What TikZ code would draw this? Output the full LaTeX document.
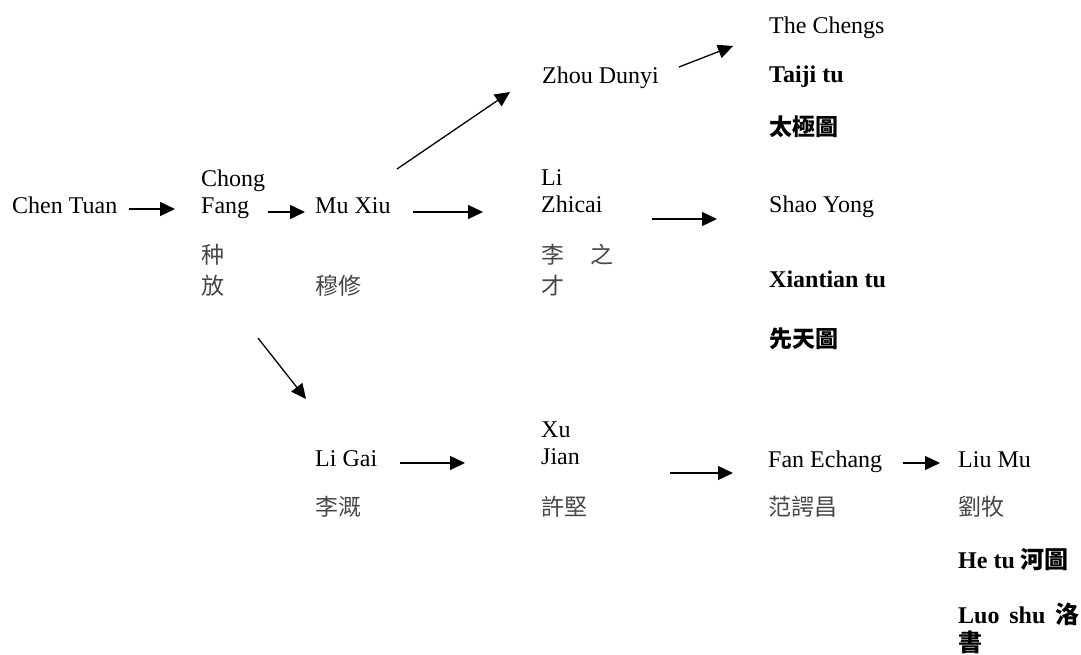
\documentclass[tikz,border=0pt]{standalone}
\usepackage{fontspec}
\setmainfont{Liberation Serif}
\newfontfamily\cjk{Noto Sans CJK TC}
\usetikzlibrary{arrows.meta}
\newcommand\twol[3][27pt]{\vtop{\baselineskip=#1\hbox{#2}\hbox{#3}}}
\tikzset{
  lbl/.style={anchor=base west, inner sep=0pt, font=\fontsize{24pt}{27pt}\selectfont},
  zh/.style={lbl, font=\fontsize{23pt}{31pt}\selectfont\cjk, text=black!72},
  zhb/.style={lbl, font=\fontsize{23pt}{31pt}\selectfont\cjk\bfseries},
  bld/.style={lbl, font=\fontsize{24pt}{27pt}\selectfont\bfseries},
  arr/.style={-{Triangle[length=15pt,width=14pt]}, line width=1.3pt},
}
\begin{document}
\begin{tikzpicture}[x=1pt,y=-1pt]
\useasboundingbox (0,0) rectangle (1081,654);
% people
\node[lbl] (chen) at (12,213) {Chen Tuan};
\node[lbl] (chong) at (201,186) {\twol{Chong}{Fang}};
\node[zh] (chongzh) at (201,263) {\twol[31pt]{种}{放}};
\node[lbl] (mu) at (315,213) {Mu Xiu};
\node[zh] (muzh) at (315,294) {穆修};
\node[lbl] (zhou) at (542,83) {Zhou Dunyi};
\node[lbl] (chengs) at (769,33) {The Chengs};
\node[bld] (taiji) at (769,82) {Taiji tu};
\node[zhb] (taijizh) at (769,135) {太極圖};
\node[lbl] (li) at (541,185) {\twol{Li}{Zhicai}};
\node[zh] (lizh) at (541,263) {\twol[31pt]{李\hspace{26pt}之}{才}};
\node[lbl] (shao) at (769,212) {Shao Yong};
\node[bld] (xiantian) at (769,287) {Xiantian tu};
\node[zhb] (xiantianzh) at (769,347) {先天圖};
\node[lbl] (ligai) at (315,466) {Li Gai};
\node[zh] (ligaizh) at (315,515) {李溉};
\node[lbl] (xu) at (541,437) {\twol{Xu}{Jian}};
\node[zh] (xuzh) at (541,515) {許堅};
\node[lbl] (fan) at (768,467) {Fan Echang};
\node[zh] (fanzh) at (768,515) {范諤昌};
\node[lbl] (liu) at (958,467) {Liu Mu};
\node[zh] (liuzh) at (958,515) {劉牧};
\node[bld] (hetu) at (958,568) {He tu {\cjk 河圖}};
\node[bld] (luo) at (958,623) {\vtop{\baselineskip=28pt\hbox to 121pt{Luo\hfill shu\hfill{\cjk 洛}}\hbox{\cjk 書}}};
% arrow end points
\coordinate (a1s) at (129,209); \coordinate (a1e) at (175,209);
\coordinate (a2s) at (268,212); \coordinate (a2e) at (305,212);
\coordinate (a3s) at (397,169); \coordinate (a3e) at (510,92);
\coordinate (a4s) at (413,212); \coordinate (a4e) at (483,212);
\coordinate (a5s) at (679,67);  \coordinate (a5e) at (733,46);
\coordinate (a6s) at (652,219); \coordinate (a6e) at (717,219);
\coordinate (a7s) at (258,338); \coordinate (a7e) at (306,399);
\coordinate (a8s) at (400,463); \coordinate (a8e) at (465,463);
\coordinate (a9s) at (670,473); \coordinate (a9e) at (733,473);
\coordinate (a10s) at (903,463); \coordinate (a10e) at (940,463);
\foreach \i in {1,...,10} \draw[arr] (a\i s) -- (a\i e);
\end{tikzpicture}
\end{document}
